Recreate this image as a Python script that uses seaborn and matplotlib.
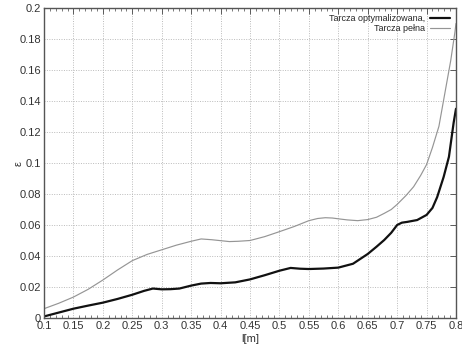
import numpy as np
import pandas as pd
import matplotlib
matplotlib.use("Agg")
import matplotlib.pyplot as plt
import seaborn as sns
from matplotlib.ticker import MultipleLocator

# Data
x_pelna = [0.1, 0.125, 0.15, 0.175, 0.2, 0.225, 0.25, 0.275, 0.3, 0.325, 0.35, 0.367,
           0.385, 0.4, 0.415, 0.43, 0.45, 0.475, 0.5, 0.525, 0.55, 0.565, 0.578, 0.59,
           0.6, 0.615, 0.633, 0.65, 0.665, 0.678, 0.69, 0.7, 0.715, 0.728, 0.74, 0.75,
           0.76, 0.771, 0.782, 0.791, 0.798, 0.8]
y_pelna = [0.006, 0.0095, 0.0135, 0.0185, 0.0245, 0.031, 0.037, 0.041, 0.044, 0.047, 0.0495, 0.051,
           0.0505, 0.0499, 0.0493, 0.0495, 0.050, 0.0525, 0.0557, 0.059, 0.0628, 0.0642, 0.0647, 0.0645,
           0.064, 0.0633, 0.0628, 0.0635, 0.065, 0.0675, 0.070, 0.0733, 0.079, 0.0847, 0.092, 0.099,
           0.11, 0.1237, 0.147, 0.166, 0.184, 0.19]

x_opt = [0.1, 0.125, 0.15, 0.175, 0.2, 0.225, 0.25, 0.27, 0.285, 0.3, 0.315, 0.33, 0.35, 0.367,
         0.383, 0.4, 0.425, 0.45, 0.475, 0.5, 0.519, 0.535, 0.55, 0.575, 0.6, 0.625, 0.65, 0.665,
         0.678, 0.69, 0.7, 0.708, 0.717, 0.734, 0.75, 0.76, 0.768, 0.779, 0.788, 0.796, 0.8]
y_opt = [0.001, 0.0035, 0.006, 0.008, 0.0099, 0.0123, 0.015, 0.0175, 0.019, 0.0185, 0.0186, 0.019, 0.0209, 0.0222,
         0.0226, 0.0224, 0.023, 0.0249, 0.0276, 0.0305, 0.0323, 0.0318, 0.0316, 0.0319, 0.0325, 0.035, 0.0413, 0.046,
         0.0503, 0.055, 0.060, 0.0615, 0.062, 0.0632, 0.0665, 0.071, 0.078, 0.091, 0.104, 0.126, 0.135]

labels = ["Tarcza optymalizowana,", "Tarcza pełna"]
x_ticks = [0.1, 0.15, 0.2, 0.25, 0.3, 0.35, 0.4, 0.45, 0.5, 0.55, 0.6, 0.65, 0.7, 0.75, 0.8]
x_ticklabels = ["0.1", "0.15", "0.2", "0.25", "0.3", "0.35", "0.4", "0.45", "0.5", "0.55",
                "0.6", "0.65", "0.7", "0.75", "0.8"]
y_ticks = [0, 0.02, 0.04, 0.06, 0.08, 0.1, 0.12, 0.14, 0.16, 0.18, 0.2]
y_ticklabels = ["0", "0.02", "0.04", "0.06", "0.08", "0.1", "0.12", "0.14", "0.16", "0.18", "0.2"]

df = pd.concat([
    pd.DataFrame({"l": x_opt, "eps": y_opt, "series": labels[0]}),
    pd.DataFrame({"l": x_pelna, "eps": y_pelna, "series": labels[1]}),
])

sns.set_style("white")
plt.rcParams['font.family'] = ['Liberation Sans', 'DejaVu Sans']

fig = plt.figure(figsize=(4.62, 3.49), dpi=100)
ax = fig.add_axes([44/462, 31/349, 412/462, 310/349])

sns.lineplot(data=df, x="l", y="eps", hue="series", size="series",
             palette={labels[0]: "#111111", labels[1]: "#959595"},
             sizes={labels[0]: 1.6, labels[1]: 0.85},
             sort=False, estimator=None, ax=ax, legend=True)

ax.set_xlim(0.1, 0.8)
ax.set_ylim(0, 0.2)
ax.set_xticks(x_ticks)
ax.set_xticklabels(x_ticklabels)
ax.set_yticks(y_ticks)
ax.set_yticklabels(y_ticklabels)
ax.xaxis.set_minor_locator(MultipleLocator(0.01))
ax.tick_params(axis="both", which="major", direction="in", length=4, width=0.6,
               labelsize=8, colors="#444444", labelcolor="#333333", top=True, right=True, pad=2)
ax.tick_params(axis="x", which="minor", direction="in", length=2, width=0.5,
               colors="#444444", top=True, bottom=True)
ax.grid(True, which="major", color="#bbbbbb", linestyle=(0, (1, 1.5)), linewidth=0.7)
for s in ax.spines.values():
    s.set_color("#555555")
    s.set_linewidth(1.0)

ax.set_xlabel("l[m]", fontsize=8, color="#333333", labelpad=2)
ax.set_ylabel("ε", fontsize=8, color="#333333")
ax.yaxis.set_label_coords(-0.05, 0.5)

leg = ax.legend(loc="upper right", frameon=False, fontsize=6.5, markerfirst=False,
                handlelength=2.2, handletextpad=0.5, labelspacing=0.1,
                borderaxespad=0.3)

fig.savefig("out.png", dpi=100)
